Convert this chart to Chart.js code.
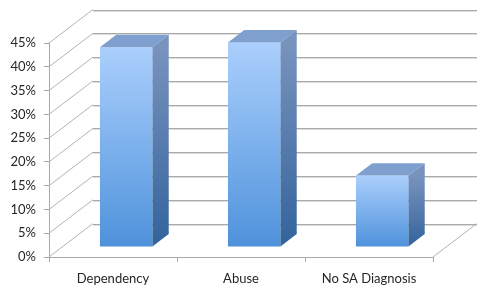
<!DOCTYPE html>
<html lang="en">
<head>
<meta charset="utf-8"/>
<title>Substance abuse diagnosis</title>
<script src="https://cdn.jsdelivr.net/npm/chart.js@4.4.1/dist/chart.umd.min.js"></script>
<style>
    html, body { margin: 0; padding: 0; background: #ffffff; }
    .wrap { width: 478px; height: 289px; }
</style>
</head>
<body>
<div class="wrap">
    <canvas id="chart1" width="478" height="289"></canvas>
</div>
<script>
    // data
    const categories = ['Dependency', 'Abuse', 'No SA Diagnosis'];
    const shares = [42, 43, 15];
    const yMax = 45;
    const yStep = 5;

    // oblique "3d" depth of the floor, and where the bars sit in it
    const depthX = 44, depthY = -33.5;
    const barFront = 0.3, barDepth = 0.37;
    const gridColor = '#a9a9a9';

    function hline(ctx, x1, x2, y) {
        const yy = Math.round(y);
        ctx.strokeStyle = gridColor;
        ctx.beginPath(); ctx.moveTo(x1, yy + 0.5); ctx.lineTo(x2, yy + 0.5); ctx.stroke();
        ctx.strokeStyle = '#dedede';
        ctx.beginPath(); ctx.moveTo(x1, yy + 1.5); ctx.lineTo(x2, yy + 1.5); ctx.stroke();
    }

    function seg(ctx, x1, y1, x2, y2) {
        ctx.strokeStyle = '#b3b3b3';
        ctx.beginPath(); ctx.moveTo(x1, y1); ctx.lineTo(x2, y2); ctx.stroke();
    }

    const box3d = {
        id: 'box3d',
        beforeDatasetsDraw(chart) {
            const {ctx, chartArea: a, scales: {y}} = chart;
            ctx.save();
            ctx.lineWidth = 1;
            y.ticks.forEach(t => {
                const py = y.getPixelForValue(t.value);
                seg(ctx, a.left, py, a.left + depthX, py + depthY);
                hline(ctx, a.left + depthX, a.right + depthX, py + depthY);
            });
            seg(ctx, a.right, a.bottom, a.right + depthX, a.bottom + depthY);
            ctx.restore();

            // bars stand part way into the floor
            ctx.save();
            ctx.translate(depthX * barFront, depthY * barFront);
        },
        afterDatasetsDraw(chart) {
            const {ctx} = chart;
            const ddx = depthX * barDepth, ddy = depthY * barDepth;
            chart.getDatasetMeta(0).data.forEach(bar => {
                const {x, y, base, width} = bar.getProps(['x', 'y', 'base', 'width'], true);
                const l = x - width / 2, r = x + width / 2;

                // top face
                ctx.fillStyle = '#7f9fcf';
                ctx.beginPath();
                ctx.moveTo(l, y); ctx.lineTo(r, y);
                ctx.lineTo(r + ddx, y + ddy); ctx.lineTo(l + ddx, y + ddy);
                ctx.closePath(); ctx.fill();

                // side face
                const g = ctx.createLinearGradient(0, y, 0, base);
                g.addColorStop(0, '#7893be');
                g.addColorStop(1, '#33639b');
                ctx.fillStyle = g;
                ctx.beginPath();
                ctx.moveTo(r, y); ctx.lineTo(r + ddx, y + ddy);
                ctx.lineTo(r + ddx, base + ddy); ctx.lineTo(r, base);
                ctx.closePath(); ctx.fill();
            });
            ctx.restore();
        }
    };

    function frontFill(c) {
        const chart = c.chart;
        if (!chart.chartArea) return '#7fb1ea';
        const ys = chart.scales.y;
        const top = ys.getPixelForValue(c.raw);
        const bot = ys.getPixelForValue(0);
        const g = chart.ctx.createLinearGradient(0, top, 0, bot);
        g.addColorStop(0, '#abcffd');
        g.addColorStop(1, '#4e92db');
        return g;
    }

    const font = {family: 'Lato', size: 13};

    new Chart(document.getElementById('chart1'), {
        type: 'bar',
        data: {
            labels: categories,
            datasets: [{
                data: shares,
                backgroundColor: frontFill,
                borderWidth: 0,
                categoryPercentage: 1,
                barPercentage: 0.41,
                clip: false
            }]
        },
        options: {
            responsive: false,
            animation: false,
            events: [],
            layout: {padding: {top: 43, right: 45, left: 0, bottom: 0}},
            plugins: {legend: {display: false}, tooltip: {enabled: false}},
            scales: {
                x: {
                    grid: {display: true, drawOnChartArea: false, offset: true, color: gridColor, tickLength: 5},
                    border: {display: true, color: gridColor},
                    ticks: {font: font, color: '#262626', padding: 9, maxRotation: 0},
                    afterFit: s => { s.height = 32; }
                },
                y: {
                    min: 0,
                    max: yMax,
                    grid: {display: true, drawOnChartArea: false, color: gridColor, tickLength: 5},
                    border: {display: true, color: gridColor},
                    ticks: {stepSize: yStep, font: font, color: '#262626', padding: 8,
                        callback: v => v + '%'},
                    afterFit: s => { s.width = 49; }
                }
            }
        },
        plugins: [box3d]
    });
</script>
</body>
</html>
